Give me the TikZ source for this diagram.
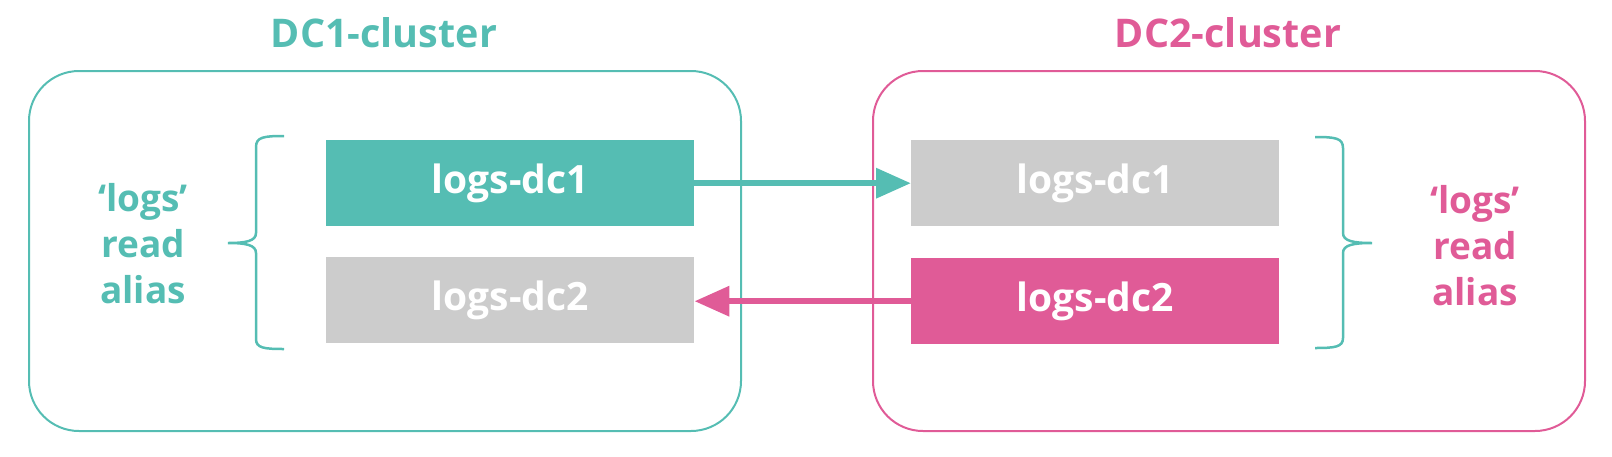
\documentclass[tikz,border=0pt]{standalone}
\usepackage{fontspec}
\setmainfont{Open Sans}
\usetikzlibrary{arrows.meta}
\definecolor{teal1}{HTML}{55BDB3}
\definecolor{pink1}{HTML}{E05B97}
\definecolor{gray1}{HTML}{CCCCCC}
\tikzset{
  cluster/.style={draw, line width=2pt, rounded corners=50pt, minimum width=712pt, minimum height=360pt, anchor=north west, inner sep=0pt},
  title/.style={font=\fontsize{39.5}{48}\selectfont\bfseries, inner sep=0pt},
  idx/.style={minimum width=368pt, minimum height=86pt, anchor=north west, inner sep=0pt, text=white, font=\fontsize{39}{48}\selectfont\bfseries},
  alias/.style={align=center, inner sep=0pt, font=\fontsize{37}{46}\selectfont\bfseries},
  brace/.style={draw=teal1, line width=2.5pt},
  flow/.style={line width=6.5pt, -{Triangle[length=35pt,width=29pt]}}
}
\begin{document}
\begin{tikzpicture}[x=1pt,y=-1pt]
\useasboundingbox (0,0) rectangle (1612,456);
% clusters
\node[cluster, draw=teal1] (dc1) at (28,70) {};
\node[cluster, draw=pink1] (dc2) at (872,70) {};
\node[title, text=teal1] (t1) at (384,33) {DC1-cluster};
\node[title, text=pink1] (t2) at (1228,33) {DC2-cluster};
% indices
\node[idx, fill=teal1] (a1) at (326,140) {logs-dc1};
\node[idx, fill=gray1] (a2) at (326,257) {logs-dc2};
\node[idx, fill=gray1] (b1) at (911,140) {logs-dc1};
\node[idx, fill=pink1] (b2) at (911,258) {logs-dc2};
% aliases
\node[alias, text=teal1] (l1) at (143,244) {‘logs’\\read\\alias};
\node[alias, text=pink1] (l2) at (1475,246) {‘logs’\\read\\alias};
% braces
\draw[brace] (284,136) .. controls (264,136) and (256,137) .. (256,147) -- (256,233) .. controls (256,241) and (246,243) .. (228,243) .. controls (246,243) and (256,245) .. (256,253) -- (256,339) .. controls (256,348) and (264,349) .. (284,349);
\draw[brace] (1315,137) .. controls (1335,137) and (1343,138) .. (1343,148) -- (1343,233) .. controls (1343,241) and (1353,243) .. (1372,243) .. controls (1353,243) and (1343,245) .. (1343,253) -- (1343,338) .. controls (1343,347) and (1335,348) .. (1315,348);
% arrows
\draw[flow, teal1] (a1.east) -- (b1.west);
\draw[flow, pink1] (b2.west) -- (a2.east |- b2.west);
\end{tikzpicture}
\end{document}
